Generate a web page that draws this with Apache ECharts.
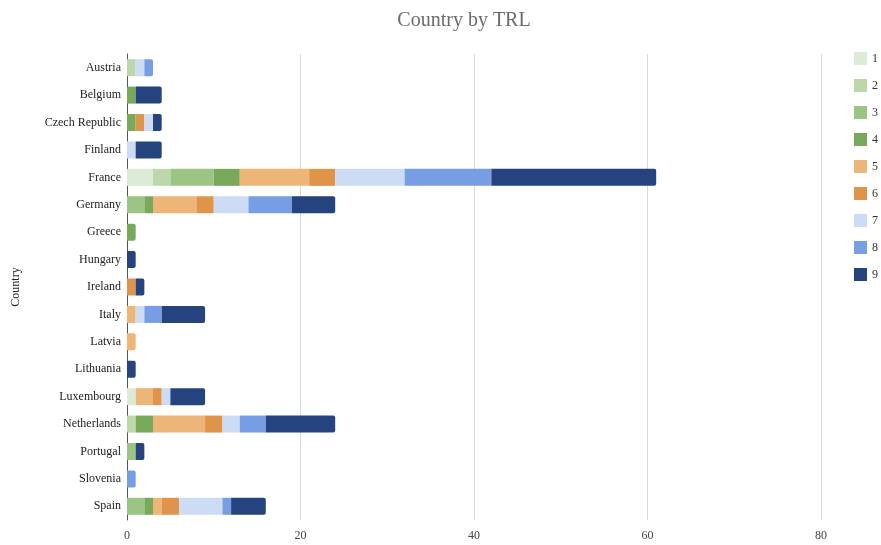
<!DOCTYPE html>
<html><head><meta charset="utf-8">
<script src="https://cdn.jsdelivr.net/npm/echarts@6/dist/echarts.min.js"></script>
<style>html,body{margin:0;padding:0;background:#fff}#c{width:881px;height:545px}</style>
</head><body><div id="c"></div>
<script>
const countries = ["Austria","Belgium","Czech Republic","Finland","France","Germany","Greece","Hungary","Ireland","Italy","Latvia","Lithuania","Luxembourg","Netherlands","Portugal","Slovenia","Spain"];
const trlNames = ["1","2","3","4","5","6","7","8","9"];
const trl1 = [0,0,0,0,3,0,0,0,0,0,0,0,1,0,0,0,0];
const trl2 = [1,0,0,0,2,0,0,0,0,0,0,0,0,1,0,0,0];
const trl3 = [0,0,0,0,5,2,0,0,0,0,0,0,0,0,1,0,2];
const trl4 = [0,1,1,0,3,1,1,0,0,0,0,0,0,2,0,0,1];
const trl5 = [0,0,0,0,8,5,0,0,0,1,1,0,2,6,0,0,1];
const trl6 = [0,0,1,0,3,2,0,0,1,0,0,0,1,2,0,0,2];
const trl7 = [1,0,1,1,8,4,0,0,0,1,0,0,1,2,0,0,5];
const trl8 = [1,0,0,0,10,5,0,0,0,2,0,0,0,3,0,1,1];
const trl9 = [0,3,1,3,19,5,0,1,1,5,0,1,4,8,1,0,4];
const seriesValues = [trl1,trl2,trl3,trl4,trl5,trl6,trl7,trl8,trl9];
const colors = ["#dcebd5","#bcd8ab","#9cc483","#78a85a","#eeb578","#df9449","#cddcf5","#779ee4","#24437f"];
const xTicks = [0,20,40,60,80];

// find last non-zero segment per country (for rounded bar end)
const lastIdx = countries.map((c,j)=>{let k=-1;seriesValues.forEach((v,i)=>{if(v[j]>0)k=i;});return k;});

const serif = "'Liberation Serif','DejaVu Serif',serif";
const chart = echarts.init(document.getElementById('c'));
chart.setOption({
  animation:false,
  title:{text:"Country by TRL",left:459,top:6,textAlign:'center',
    textStyle:{fontFamily:serif,fontSize:20,fontWeight:'normal',color:'#6b6b6b'}},
  legend:{orient:'vertical',left:849,top:47,itemWidth:13,itemHeight:13,itemGap:14,
    icon:'rect',textStyle:{fontFamily:serif,fontSize:12,color:'#333'},data:trlNames},
  grid:{left:127,right:60,top:54,bottom:25,containLabel:false},
  xAxis:{type:'value',min:xTicks[0],max:xTicks[xTicks.length-1],interval:20,
    axisLine:{show:false},axisTick:{show:false},
    axisLabel:{fontFamily:serif,fontSize:12,color:'#444',margin:10},
    splitLine:{lineStyle:{color:'#d9d9d9',width:1}}},
  yAxis:{type:'category',data:countries,inverse:true,name:'Country',nameLocation:'middle',nameGap:105,
    nameTextStyle:{fontFamily:serif,fontSize:12,color:'#222'},
    axisLine:{lineStyle:{color:'#555',width:1}},axisTick:{show:false},
    axisLabel:{fontFamily:serif,fontSize:12,color:'#222',margin:6}},
  series: seriesValues.map((vals,i)=>({
    name:trlNames[i],type:'bar',stack:'t',barWidth:17,
    data:vals.map((v,j)=> lastIdx[j]===i ? {value:v,itemStyle:{borderRadius:[0,2,2,0]}} : v),
    itemStyle:{color:colors[i]}
  }))
});
</script></body></html>
